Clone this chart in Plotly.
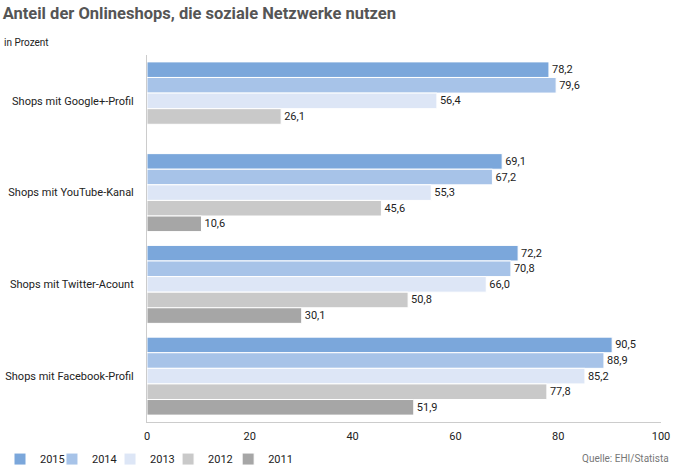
import plotly.graph_objects as go

categories = ["Shops mit Google+-Profil", "Shops mit YouTube-Kanal",
              "Shops mit Twitter-Acount", "Shops mit Facebook-Profil"]
years = ["2015", "2014", "2013", "2012", "2011"]
v2015 = [78.2, 69.1, 72.2, 90.5]
v2014 = [79.6, 67.2, 70.8, 88.9]
v2013 = [56.4, 55.3, 66.0, 85.2]
v2012 = [26.1, 45.6, 50.8, 77.8]
v2011 = [None, 10.6, 30.1, 51.9]
series = [v2015, v2014, v2013, v2012, v2011]
colors = ["#7BA7DB", "#A7C3E8", "#DDE6F6", "#C9C9C9", "#A6A6A6"]
x_ticks = [0, 20, 40, 60, 80, 100]

FONT = "Roboto, Liberation Sans, sans-serif"
legend_ids = ["legend", "legend2", "legend3", "legend4", "legend5"]
legend_x = [0.0, 0.077, 0.163, 0.249, 0.338]

fig = go.Figure()
for name, vals, col, lid in zip(years, series, colors, legend_ids):
    fig.add_trace(go.Bar(
        y=categories, x=vals, name=name, orientation="h", legend=lid,
        marker=dict(color=col, line=dict(color="white", width=1)),
        texttemplate="%{x:.1f}", textposition="outside",
        textfont=dict(size=11, color="#222", family=FONT),
        cliponaxis=False,
    ))

legend_layout = {}
for lid, lx in zip(legend_ids, legend_x):
    legend_layout[lid] = dict(orientation="h", xref="container", yref="container",
                              x=lx, xanchor="left", y=0.017, yanchor="middle",
                              bgcolor="rgba(0,0,0,0)",
                              font=dict(size=11, color="#222", family=FONT),
                              itemwidth=30)

fig.update_layout(
    width=675, height=467,
    margin=dict(l=147, r=14, t=55, b=45, autoexpand=False),
    paper_bgcolor="white", plot_bgcolor="white",
    barmode="group", bargap=0.15, bargroupgap=0.0,
    separators=",.",
    font=dict(family=FONT, size=11, color="#222"),
    title=dict(text="<b>Anteil der Onlineshops, die soziale Netzwerke nutzen</b>",
               x=0.004, xanchor="left", y=0.972, yanchor="middle",
               font=dict(size=16.5, color="#555", family=FONT)),
    showlegend=True,
    xaxis=dict(range=[0, 100], tickvals=x_ticks, showgrid=False, zeroline=False,
               showline=True, linecolor="#CCCCCC", linewidth=1,
               ticks="", ticklabelstandoff=4, tickfont=dict(size=11, color="#222")),
    yaxis=dict(autorange="reversed", categoryorder="array", categoryarray=categories,
               showgrid=False, showline=True, linecolor="#CCCCCC", linewidth=1,
               ticks="", ticklabelstandoff=10, tickfont=dict(size=11, color="#222")),
    annotations=[
        dict(text="in Prozent", xref="paper", yref="paper", x=-0.283, y=1.035,
             xanchor="left", yanchor="middle", showarrow=False,
             font=dict(size=10, color="#222", family=FONT)),
        dict(text="Quelle: EHI/Statista", xref="paper", yref="paper", x=1.02, y=-0.1,
             xanchor="right", yanchor="middle", showarrow=False,
             font=dict(size=10, color="#777", family=FONT)),
    ],
    **legend_layout,
)

fig.write_html("out.html", config={"displayModeBar": False},
               post_script="document.body.style.margin='0';")
